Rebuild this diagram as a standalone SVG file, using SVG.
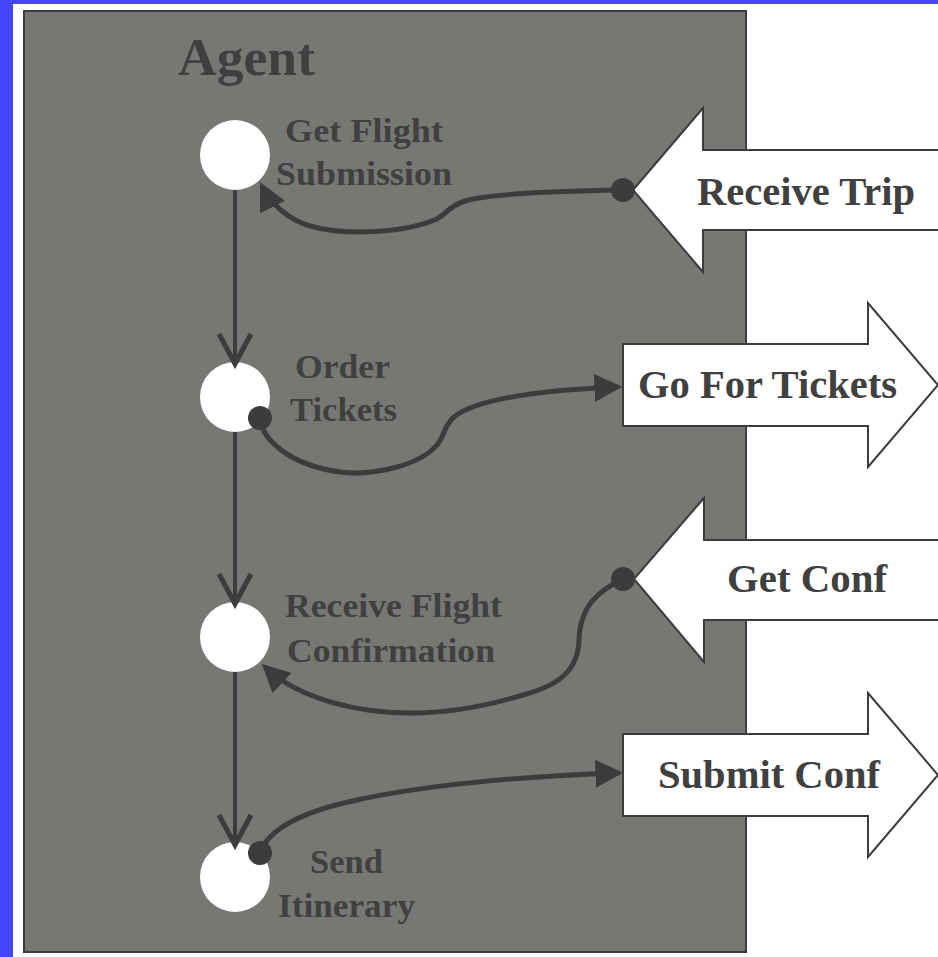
<svg xmlns="http://www.w3.org/2000/svg" width="938" height="957" viewBox="0 0 938 957">
<style>
.lbl{font-family:"Liberation Serif","Times New Roman",serif;font-weight:bold;fill:#404040}
.node{fill:#ffffff}
.flow{stroke:#3c3c3c;stroke-width:4;fill:none}
.vee{stroke:#3c3c3c;stroke-width:5;fill:none;stroke-linejoin:miter}
.conn{stroke:#3c3c3c;stroke-width:5;fill:none;marker-end:url(#tri)}
.dot{fill:#3c3c3c}
.blk{fill:#ffffff;stroke:#3c3c3c;stroke-width:2;stroke-linejoin:miter}
</style>
<defs>
<marker id="tri" markerUnits="userSpaceOnUse" markerWidth="30" markerHeight="30" viewBox="0 -14 28 28" refX="22" refY="0" orient="auto">
<path d="M0,-13 L26,0 L0,13 z" fill="#3c3c3c"/>
</marker>
</defs>
<rect x="0" y="0" width="938" height="957" fill="#4646ff"/>
<rect x="13" y="4" width="925" height="953" fill="#ffffff"/>
<rect id="agent" x="24" y="11" width="722" height="941" fill="#777874" stroke="#3c3c3c" stroke-width="2"/>
<text class="lbl" x="178" y="75" font-size="53" textLength="137" lengthAdjust="spacingAndGlyphs">Agent</text>

<g id="flows">
<line class="flow" x1="235" y1="190" x2="235" y2="364"/>
<line class="flow" x1="235" y1="430" x2="235" y2="604"/>
<line class="flow" x1="235" y1="670" x2="235" y2="844"/>
</g>

<g id="n1">
<circle class="node" cx="235" cy="155" r="35"/>
<text class="lbl" x="285" y="142" font-size="33" textLength="158" lengthAdjust="spacingAndGlyphs">Get Flight</text>
<text class="lbl" x="276" y="185" font-size="33" textLength="176" lengthAdjust="spacingAndGlyphs">Submission</text>
</g>
<g id="n2">
<circle class="node" cx="235" cy="397" r="35"/>
<text class="lbl" x="295" y="378" font-size="33" textLength="95" lengthAdjust="spacingAndGlyphs">Order</text>
<text class="lbl" x="290" y="421" font-size="33" textLength="107" lengthAdjust="spacingAndGlyphs">Tickets</text>
</g>
<g id="n3">
<circle class="node" cx="235" cy="637" r="35"/>
<text class="lbl" x="285" y="617" font-size="33" textLength="217" lengthAdjust="spacingAndGlyphs">Receive Flight</text>
<text class="lbl" x="287" y="662" font-size="33" textLength="208" lengthAdjust="spacingAndGlyphs">Confirmation</text>
</g>
<g id="n4">
<circle class="node" cx="235" cy="877" r="35"/>
<text class="lbl" x="310" y="873" font-size="33" textLength="73" lengthAdjust="spacingAndGlyphs">Send</text>
<text class="lbl" x="278" y="917" font-size="33" textLength="137" lengthAdjust="spacingAndGlyphs">Itinerary</text>
</g>

<g id="vees">
<polyline class="vee" points="219,334 235,364 251,334"/>
<polyline class="vee" points="219,574 235,604 251,574"/>
<polyline class="vee" points="219,815 235,845 251,815"/>
</g>

<g id="receive-trip">
<polygon class="blk" points="633,190 703,108 703,150 942,150 942,230 703,230 703,272"/>
<text class="lbl" x="697" y="205" font-size="40" textLength="218" lengthAdjust="spacingAndGlyphs">Receive Trip</text>
</g>
<g id="go-for-tickets">
<polygon class="blk" points="623,344 868,344 868,303 938,385 868,467 868,426 623,426"/>
<text class="lbl" x="638" y="398" font-size="40" textLength="259" lengthAdjust="spacingAndGlyphs">Go For Tickets</text>
</g>
<g id="get-conf">
<polygon class="blk" points="634,579 704,498 704,540 942,540 942,620 704,620 704,662"/>
<text class="lbl" x="727" y="592" font-size="40" textLength="160" lengthAdjust="spacingAndGlyphs">Get Conf</text>
</g>
<g id="submit-conf">
<polygon class="blk" points="623,734 868,734 868,693 938,775 868,857 868,816 623,816"/>
<text class="lbl" x="658" y="788" font-size="40" textLength="222" lengthAdjust="spacingAndGlyphs">Submit Conf</text>
</g>

<g id="connectors">
<path class="conn" d="M623,190 C560,191 490,193 465,201 C447,207 447,214 437,219 C405,233 345,236 310,226 C290,220 272,206 262,186"/>
<circle class="dot" cx="623" cy="190" r="12"/>
<path class="conn" d="M260,418 C262,440 290,465 340,472 C375,476 420,465 437,445 C445,436 443,426 455,416 C480,398 545,390 618,387"/>
<circle class="dot" cx="260" cy="418" r="12"/>
<path class="conn" d="M623,579 C600,590 580,605 579,640 C578,670 560,685 523,695 C490,705 450,713 410,713 C360,713 300,700 265,667"/>
<circle class="dot" cx="623" cy="579" r="12"/>
<path class="conn" d="M260,853 C268,830 300,812 357,800 C420,786 520,776 619,773"/>
<circle class="dot" cx="260" cy="853" r="12"/>
</g>
</svg>
